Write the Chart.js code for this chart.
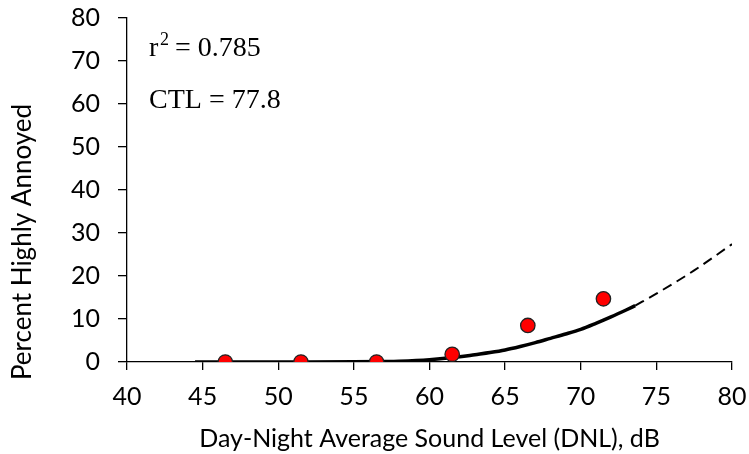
<!DOCTYPE html>
<html>
<head>
<meta charset="utf-8">
<script src="https://cdn.jsdelivr.net/npm/chart.js@4/dist/chart.umd.min.js"></script>
<style>
  html, body { margin: 0; padding: 0; background: #fff; }
  #wrap { width: 749px; height: 454px; }
</style>
</head>
<body>
<div id="wrap"><canvas id="chart" width="749" height="454"></canvas></div>
<script>
'use strict';

// survey points (DNL, % highly annoyed)
const obsDnl = [46.5, 51.5, 56.5, 61.5, 66.5, 71.5];
const obsPha = [0, 0, 0, 1.8, 8.5, 14.7];

// fitted curve - solid part
const fitDnl = [44.5, 48, 52, 55, 57, 58, 60, 62, 63, 64, 65, 66, 67, 68, 69, 70, 71, 72, 73, 73.6];
const fitPha = [0, 0, 0, 0.03, 0.12, 0.2, 0.55, 1.2, 1.7, 2.2, 2.8, 3.6, 4.5, 5.5, 6.5, 7.6, 9.0, 10.5, 12.1, 13.1];

// extrapolated part (dashed)
const extDnl = [73.6, 75, 77.5, 80];
const extPha = [13.1, 15.9, 21.3, 27.4];

const xTicks = [40, 45, 50, 55, 60, 65, 70, 75, 80];
const yTicks = [0, 10, 20, 30, 40, 50, 60, 70, 80];

const toXY = (xs, ys) => xs.map((x, i) => ({ x: x, y: ys[i] }));

const sansFont = "Lato, 'Open Sans', sans-serif";
const serifFont = "'Liberation Serif', 'Times New Roman', serif";

// r² / CTL notes, plus the y title (it sits lower than the plot centre)
const notesPlugin = {
    id: 'notes',
    afterDraw(chart) {
        const ctx = chart.ctx;
        ctx.save();
        ctx.fillStyle = '#000';
        ctx.textBaseline = 'alphabetic';
        ctx.textAlign = 'left';
        ctx.font = `28px ${serifFont}`;
        ctx.fillText('r', 149, 56);
        ctx.fillText('= 0.785', 175, 56);
        ctx.fillText('CTL = 77.8', 149, 108);
        ctx.font = `18px ${serifFont}`;
        ctx.fillText('2', 160, 45);

        ctx.translate(23, 242);
        ctx.rotate(-Math.PI / 2);
        ctx.textAlign = 'center';
        ctx.textBaseline = 'middle';
        ctx.font = `26px ${sansFont}`;
        ctx.fillText('Percent Highly Annoyed', 0, 0);
        ctx.restore();
    }
};

new Chart(document.getElementById('chart'), {
    type: 'scatter',
    data: {
        datasets: [
            {
                label: 'Fit',
                data: toXY(fitDnl, fitPha),
                showLine: true,
                borderColor: '#000',
                borderWidth: 3.5,
                pointRadius: 0,
                cubicInterpolationMode: 'monotone',
                order: 2
            },
            {
                label: 'Extrapolation',
                data: toXY(extDnl, extPha),
                showLine: true,
                borderColor: '#000',
                borderWidth: 2,
                borderDash: [10, 6],
                pointRadius: 0,
                cubicInterpolationMode: 'monotone',
                order: 2
            },
            {
                label: 'Observed',
                data: toXY(obsDnl, obsPha),
                backgroundColor: '#ff0000',
                borderColor: '#222',
                borderWidth: 1.3,
                pointRadius: 7.2,
                pointHoverRadius: 7.2,
                order: 1
            }
        ]
    },
    options: {
        responsive: false,
        animation: false,
        layout: { padding: { top: 18, right: 17, left: 0, bottom: 0 } },
        plugins: {
            legend: { display: false },
            tooltip: { enabled: false }
        },
        scales: {
            x: {
                type: 'linear',
                min: 40,
                max: 80,
                afterBuildTicks: axis => { axis.ticks = xTicks.map(v => ({ value: v })); },
                afterFit: axis => {
                    axis.height = 92;
                    axis.paddingLeft = 0;
                    axis.paddingRight = 0;
                },
                grid: { drawOnChartArea: false, drawTicks: true, tickLength: 8, color: '#000', lineWidth: 1.3 },
                border: { display: true, color: '#000', width: 1.3 },
                ticks: { color: '#000', font: { family: sansFont, size: 25 }, padding: 12 },
                title: {
                    display: true,
                    text: 'Day-Night Average Sound Level (DNL), dB',
                    color: '#000',
                    font: { family: sansFont, size: 25 },
                    padding: { top: 0, bottom: 0 }
                }
            },
            y: {
                min: 0,
                max: 80,
                afterBuildTicks: axis => { axis.ticks = yTicks.map(v => ({ value: v })); },
                afterFit: axis => {
                    axis.width = 127;
                    axis.paddingTop = 0;
                    axis.paddingBottom = 0;
                },
                grid: { drawOnChartArea: false, drawTicks: true, tickLength: 9, color: '#000', lineWidth: 1.3 },
                border: { display: true, color: '#000', width: 1.3 },
                ticks: { color: '#000', font: { family: sansFont, size: 25 }, padding: 18 },
                title: { display: false }
            }
        }
    },
    plugins: [notesPlugin]
});
</script>
</body>
</html>
